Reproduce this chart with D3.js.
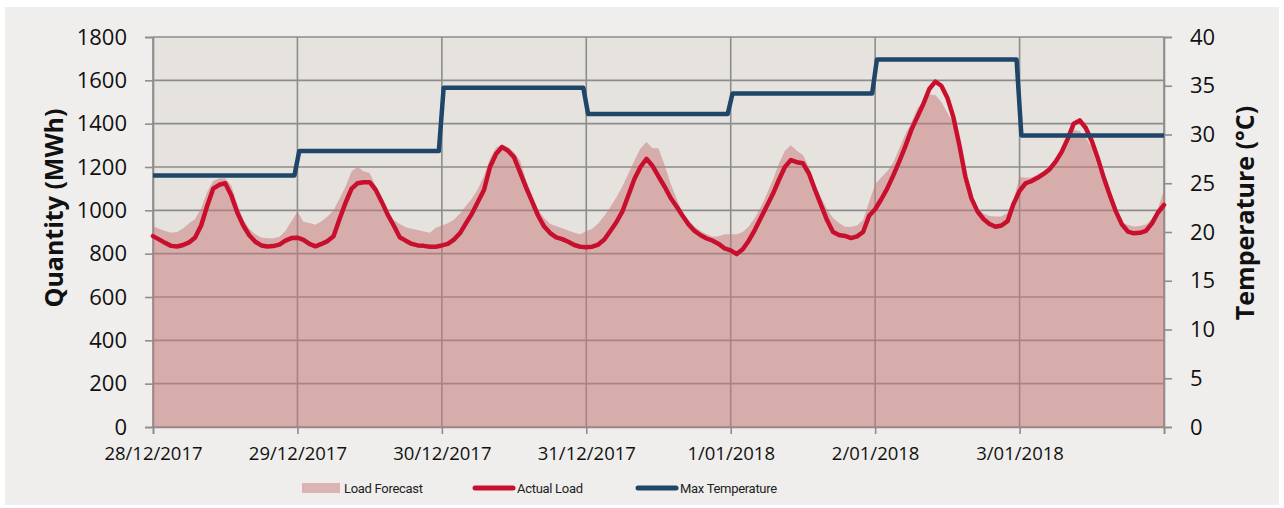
<!DOCTYPE html>
<html>
<head>
<meta charset="utf-8">
<script src="https://cdn.jsdelivr.net/npm/d3@7"></script>
<style>
  html, body { margin: 0; padding: 0; background: #ffffff; }
  svg { display: block; }
  .tick-y text, .tick-t text { font-family: "Open Sans", sans-serif; font-size: 22px; fill: #111; }
  .tick-x text { font-family: "Open Sans", sans-serif; font-size: 18.5px; fill: #111; }
  .axis-title { font-family: "Open Sans", sans-serif; font-weight: 700; font-size: 25px; fill: #111; }
  .legend text { font-family: Roboto, "Open Sans", sans-serif; font-size: 13px; letter-spacing: -0.3px; fill: #222; }
</style>
</head>
<body>
<svg id="chart" width="1284" height="508"></svg>
<script>
// ==========================================================================
// Load forecast vs actual load vs max temperature, 28/12/2017 - 3/01/2018
// hourly values
// ==========================================================================

const dayLabels = ["28/12/2017", "29/12/2017", "30/12/2017", "31/12/2017", "1/01/2018", "2/01/2018", "3/01/2018", ""];
const loadTicks = [0, 200, 400, 600, 800, 1000, 1200, 1400, 1600, 1800];
const tempTicks = [0, 5, 10, 15, 20, 25, 30, 35, 40];

// daily max temperature (°C)
const maxTemp = [25.8, 28.3, 34.8, 32.1, 34.2, 37.7, 29.9];

// hourly load forecast (MWh), hour 0 .. 168
const loadForecast = [
  928, 915, 905, 896, 900, 916, 940, 960, 1010, 1085, 1135, 1148, 1148, 1115, 1030, 958, 915, 890, 875, 871, 871, 878, 905, 950,
  994, 947, 942, 933, 950, 972, 1000, 1055, 1110, 1180, 1200, 1180, 1172, 1115, 1045, 990, 955, 937, 922, 915, 909, 902, 896, 920,
  930, 940, 956, 985, 1020, 1055, 1100, 1160, 1240, 1290, 1305, 1292, 1268, 1230, 1140, 1070, 1003, 965, 937, 926, 917, 907, 897, 890,
  905, 915, 940, 975, 1015, 1060, 1110, 1170, 1230, 1285, 1315, 1287, 1286, 1210, 1125, 1055, 990, 955, 925, 905, 890, 878, 880, 890,
  890, 890, 900, 925, 965, 1015, 1075, 1140, 1215, 1275, 1300, 1275, 1255, 1200, 1125, 1060, 1005, 965, 942, 924, 924, 930, 955, 1040,
  1120, 1152, 1180, 1220, 1285, 1350, 1405, 1470, 1505, 1535, 1532, 1500, 1450, 1405, 1295, 1155, 1055, 1010, 985, 974, 971, 971, 990, 1050,
  1155, 1150, 1152, 1165, 1182, 1205, 1238, 1280, 1338, 1372, 1365, 1335, 1290, 1200, 1125, 1045, 985, 945, 932, 925, 928, 935, 960, 1010,
  1094
];

// hourly actual load (MWh), hour 0 .. 168
const actualLoad = [
  881, 866, 850, 836, 833, 840, 852, 875, 930, 1020, 1100, 1118, 1125, 1070, 990, 930, 885, 855, 838, 833, 835, 842, 860, 872,
  874, 864, 845, 834, 845, 858, 880, 960, 1035, 1100, 1125, 1130, 1130, 1095, 1040, 980, 930, 876, 860, 845, 838, 836, 832, 832,
  838, 845, 865, 894, 940, 985, 1040, 1094, 1200, 1260, 1292, 1275, 1245, 1175, 1105, 1040, 975, 925, 895, 875, 867, 855, 840, 832,
  830, 832, 842, 865, 905, 945, 995, 1070, 1145, 1200, 1238, 1205, 1157, 1110, 1058, 1018, 975, 935, 905, 885, 870, 860, 845, 824,
  815, 798, 820, 860, 909, 965, 1020, 1075, 1140, 1200, 1232, 1222, 1217, 1170, 1095, 1025, 955, 900, 886, 882, 872, 880, 900, 975,
  1005, 1050, 1100, 1160, 1225, 1294, 1370, 1430, 1490, 1560, 1594, 1575, 1520, 1430, 1300, 1155, 1055, 995, 960, 937, 924, 930, 950, 1030,
  1090, 1125, 1135, 1150, 1168, 1190, 1225, 1270, 1330, 1400, 1415, 1380, 1320, 1240, 1150, 1070, 995, 935, 902, 894, 896, 905, 940, 990,
  1025
];

(function () {
  const W = 1284, H = 508;
  const m = { left: 153, right: 120, top: 37, bottom: 81 };
  const iw = W - m.left - m.right, ih = H - m.top - m.bottom;

  const svg = d3.select('#chart');

  // outer chart background (white frame round it)
  svg.append('rect').attr('x', 5).attr('y', 7).attr('width', W - 10).attr('height', H - 10).attr('fill', '#efeeec');

  const x = d3.scaleLinear().domain([0, 168]).range([m.left, m.left + iw]);
  const y = d3.scaleLinear().domain([0, 1800]).range([m.top + ih, m.top]);
  const yT = d3.scaleLinear().domain([0, 40]).range([m.top + ih, m.top]);

  // plot area
  svg.append('rect').attr('x', m.left).attr('y', m.top).attr('width', iw).attr('height', ih).attr('fill', '#e6e3df');

  const gridColor = '#8d8d8d';

  // left axis
  const yAxis = svg.append('g').attr('class', 'tick-y')
    .attr('transform', `translate(${m.left},0)`)
    .call(d3.axisLeft(y).tickValues(loadTicks).tickSize(8).tickPadding(18).tickFormat(d3.format('d')));
  yAxis.select('.domain').attr('stroke', gridColor).attr('stroke-width', 1.6);
  yAxis.selectAll('.tick line').attr('stroke', gridColor).attr('stroke-width', 1.6);

  // horizontal grid
  svg.append('g').selectAll('line').data(loadTicks).join('line')
    .attr('x1', m.left).attr('x2', m.left + iw)
    .attr('y1', d => y(d)).attr('y2', d => y(d))
    .attr('stroke', gridColor).attr('stroke-width', 1.6);

  // vertical day grid
  svg.append('g').selectAll('line').data(d3.range(0, 169, 24)).join('line')
    .attr('x1', d => x(d)).attr('x2', d => x(d))
    .attr('y1', m.top).attr('y2', m.top + ih)
    .attr('stroke', gridColor).attr('stroke-width', 1.6);

  // bottom axis
  const xAxis = svg.append('g').attr('class', 'tick-x')
    .attr('transform', `translate(0,${m.top + ih})`)
    .call(d3.axisBottom(x).tickValues(d3.range(0, 169, 24)).tickSize(7).tickPadding(13)
      .tickFormat((d, i) => dayLabels[i]));
  xAxis.select('.domain').attr('stroke', gridColor).attr('stroke-width', 1.6);
  xAxis.selectAll('.tick line').attr('stroke', gridColor).attr('stroke-width', 1.6);

  // right temperature axis
  const tAxis = svg.append('g').attr('class', 'tick-t')
    .attr('transform', `translate(${m.left + iw},0)`)
    .call(d3.axisRight(yT).tickValues(tempTicks).tickSize(8).tickPadding(18));
  tAxis.select('.domain').attr('stroke', gridColor).attr('stroke-width', 1.6);
  tAxis.selectAll('.tick line').attr('stroke', gridColor).attr('stroke-width', 1.6);

  // forecast area (semi transparent so the grid shows through)
  svg.append('path')
    .datum(loadForecast)
    .attr('fill', '#c8777a').attr('fill-opacity', 0.5)
    .attr('d', d3.area().x((d, i) => x(i)).y0(y(0)).y1(d => y(d)));

  // actual load
  svg.append('path')
    .datum(actualLoad)
    .attr('fill', 'none').attr('stroke', '#c8102e').attr('stroke-width', 4.5)
    .attr('stroke-linejoin', 'round').attr('stroke-linecap', 'round')
    .attr('d', d3.line().x((d, i) => x(i)).y(d => y(d)));

  // max temperature: one level per day, stepping over the last half hour
  const tempPts = [];
  maxTemp.forEach((t, d) => {
    tempPts.push([d === 0 ? 0 : d * 24 + 0.3, t]);
    tempPts.push([d === maxTemp.length - 1 ? 168 : (d + 1) * 24 - 0.5, t]);
  });
  svg.append('path')
    .datum(tempPts)
    .attr('fill', 'none').attr('stroke', '#1f4568').attr('stroke-width', 4.5)
    .attr('stroke-linejoin', 'round')
    .attr('d', d3.line().x(d => x(d[0])).y(d => yT(d[1])));

  // axis titles
  svg.append('text').attr('class', 'axis-title')
    .attr('transform', `translate(63,${m.top + ih / 2 - 24}) rotate(-90)`)
    .attr('text-anchor', 'middle').text('Quantity (MWh)');
  svg.append('text').attr('class', 'axis-title')
    .attr('transform', `translate(1254,${m.top + ih / 2 - 19}) rotate(-90)`)
    .attr('text-anchor', 'middle').text('Temperature (°C)');

  // legend
  const lg = svg.append('g').attr('class', 'legend').attr('transform', 'translate(0,488)');
  lg.append('rect').attr('x', 302).attr('y', -5).attr('width', 38).attr('height', 10)
    .attr('fill', '#c8777a').attr('fill-opacity', 0.5);
  lg.append('text').attr('x', 344).attr('y', 5).text('Load Forecast');
  lg.append('line').attr('x1', 475).attr('x2', 513).attr('y1', 0).attr('y2', 0)
    .attr('stroke', '#c8102e').attr('stroke-width', 5).attr('stroke-linecap', 'round');
  lg.append('text').attr('x', 517).attr('y', 5).text('Actual Load');
  lg.append('line').attr('x1', 638).attr('x2', 676).attr('y1', 0).attr('y2', 0)
    .attr('stroke', '#1f4568').attr('stroke-width', 5).attr('stroke-linecap', 'round');
  lg.append('text').attr('x', 680).attr('y', 5).text('Max Temperature');
})();
</script>
</body>
</html>
